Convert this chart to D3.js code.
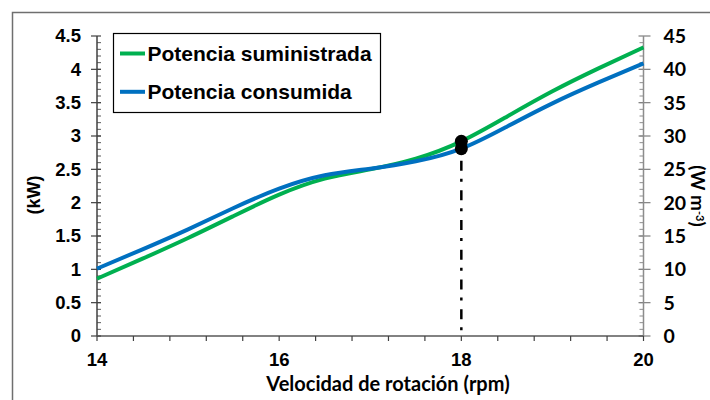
<!DOCTYPE html>
<html>
<head>
<meta charset="utf-8">
<script src="https://cdn.jsdelivr.net/npm/d3@7"></script>
<style>
  html, body { margin: 0; padding: 0; background: #fff; }
  svg { display: block; }
</style>
</head>
<body>
<svg id="chart" width="710" height="400"></svg>
<script>
// Rotation speed (rpm) and the two power curves (kW)
const rpm = [14, 14.5, 15, 15.5, 16, 16.5, 17, 17.5, 18, 18.5, 19, 19.5, 20];
const suministrada = [0.86, 1.16, 1.47, 1.80, 2.12, 2.36, 2.50, 2.66, 2.92, 3.29, 3.67, 4.01, 4.33];
const consumida    = [1.01, 1.30, 1.60, 1.92, 2.21, 2.41, 2.51, 2.62, 2.81, 3.14, 3.49, 3.80, 4.09];
const seriesNames = ["Potencia suministrada", "Potencia consumida"];
const seriesColors = ["#00b050", "#0070c0"];
const operatingRpm = 18;

const xTicks = [14, 16, 18, 20];
const yTicksLeft = [0, 0.5, 1, 1.5, 2, 2.5, 3, 3.5, 4, 4.5];
const yTicksRight = [0, 5, 10, 15, 20, 25, 30, 35, 40, 45];

const svg = d3.select("#chart");
const plot = { left: 97, right: 643.5, top: 36, bottom: 336 };

const x = d3.scaleLinear().domain([14, 20]).range([plot.left, plot.right]);
const yL = d3.scaleLinear().domain([0, 4.5]).range([plot.bottom, plot.top]);
const yR = d3.scaleLinear().domain([0, 45]).range([plot.bottom, plot.top]);

// outer frame of the chart object
svg.append("rect")
  .attr("x", 12.5).attr("y", 12.5)
  .attr("width", 760).attr("height", 440)
  .attr("fill", "none").attr("stroke", "#6f6f6f").attr("stroke-width", 1.5);

const armFont = "'Liberation Sans', Arial, sans-serif";
const calFont = "Lato, 'Open Sans', sans-serif";

// left axis (kW)
const leftAxis = svg.append("g");
leftAxis.selectAll("line.minor")
  .data(d3.range(0, 45).map(i => i / 10))
  .join("line")
  .attr("x1", plot.left).attr("x2", plot.left + 4)
  .attr("y1", d => yL(d)).attr("y2", d => yL(d))
  .attr("stroke", "#595959").attr("stroke-width", 1);
leftAxis.selectAll("line.major")
  .data(yTicksLeft)
  .join("line")
  .attr("x1", plot.left - 6).attr("x2", plot.left + 4)
  .attr("y1", d => yL(d)).attr("y2", d => yL(d))
  .attr("stroke", "#404040").attr("stroke-width", 1.2);
leftAxis.append("line")
  .attr("x1", plot.left).attr("x2", plot.left)
  .attr("y1", plot.top).attr("y2", plot.bottom)
  .attr("stroke", "#404040").attr("stroke-width", 1.5);
leftAxis.selectAll("text")
  .data(yTicksLeft)
  .join("text")
  .attr("x", plot.left - 16).attr("y", d => yL(d))
  .attr("dy", "0.35em")
  .attr("text-anchor", "end")
  .attr("font-family", armFont).attr("font-weight", "bold").attr("font-size", 18.5)
  .text(d => d3.format("~g")(d));

// right axis (W m-3)
const rightAxis = svg.append("g");
rightAxis.selectAll("line.minor")
  .data(d3.range(0, 45))
  .join("line")
  .attr("x1", plot.right - 4).attr("x2", plot.right)
  .attr("y1", d => yR(d)).attr("y2", d => yR(d))
  .attr("stroke", "#8c8c8c").attr("stroke-width", 1);
rightAxis.selectAll("line.major")
  .data(yTicksRight)
  .join("line")
  .attr("x1", plot.right - 5).attr("x2", plot.right + 7)
  .attr("y1", d => yR(d)).attr("y2", d => yR(d))
  .attr("stroke", "#7f7f7f").attr("stroke-width", 1.2);
rightAxis.append("line")
  .attr("x1", plot.right).attr("x2", plot.right)
  .attr("y1", plot.top).attr("y2", plot.bottom)
  .attr("stroke", "#8c8c8c").attr("stroke-width", 1.5);
rightAxis.selectAll("text")
  .data(yTicksRight)
  .join("text")
  .attr("x", plot.right + 20).attr("y", d => yR(d))
  .attr("dy", "0.36em")
  .attr("font-family", calFont).attr("font-weight", "bold").attr("font-size", 19.5)
  .text(d => d);

// x axis (rpm)
const xAxis = svg.append("g");
xAxis.append("line")
  .attr("x1", plot.left).attr("x2", plot.right)
  .attr("y1", plot.bottom).attr("y2", plot.bottom)
  .attr("stroke", "#595959").attr("stroke-width", 1.5);
xAxis.selectAll("line.tick")
  .data(d3.range(0, 16).map(i => 14 + i * 0.4))
  .join("line")
  .attr("x1", d => x(d)).attr("x2", d => x(d))
  .attr("y1", plot.bottom).attr("y2", plot.bottom + 5)
  .attr("stroke", "#404040").attr("stroke-width", 1.2);
xAxis.selectAll("text")
  .data(xTicks)
  .join("text")
  .attr("x", d => x(d)).attr("y", 366)
  .attr("text-anchor", "middle")
  .attr("font-family", armFont).attr("font-weight", "bold").attr("font-size", 18.5)
  .text(d => d);

// axis titles
svg.append("text")
  .attr("x", 388).attr("y", 391)
  .attr("text-anchor", "middle")
  .attr("font-family", calFont).attr("font-weight", "bold").attr("font-size", 20)
  .text("Velocidad de rotación (rpm)");
svg.append("text")
  .attr("transform", "translate(40,195) rotate(-90)")
  .attr("text-anchor", "middle")
  .attr("font-family", armFont).attr("font-weight", "bold").attr("font-size", 18)
  .text("(kW)");
const rTitle = svg.append("text")
  .attr("transform", "translate(691,196) rotate(90)")
  .attr("text-anchor", "middle")
  .attr("font-family", calFont).attr("font-weight", "bold").attr("font-size", 19);
rTitle.append("tspan").text("(W m");
rTitle.append("tspan").attr("dy", -5).attr("font-size", 11).text("-3");
rTitle.append("tspan").attr("dy", 5).text(")");

// operating-point guide line
svg.append("line")
  .attr("x1", x(operatingRpm)).attr("x2", x(operatingRpm))
  .attr("y1", yL(consumida[rpm.indexOf(operatingRpm)]) + 12).attr("y2", plot.bottom)
  .attr("stroke", "#000").attr("stroke-width", 2.5)
  .attr("stroke-dasharray", "10,8,3,8.7");

// power curves
const line = d3.line()
  .x(d => x(d[0]))
  .y(d => yL(d[1]))
  .curve(d3.curveNatural);
[suministrada, consumida].forEach((vals, i) => {
  svg.append("path")
    .datum(rpm.map((r, j) => [r, vals[j]]))
    .attr("d", line)
    .attr("fill", "none")
    .attr("stroke", seriesColors[i])
    .attr("stroke-width", 4)
    .attr("stroke-linejoin", "round");
});

// operating-point markers
[suministrada, consumida].forEach(vals => {
  svg.append("circle")
    .attr("cx", x(operatingRpm))
    .attr("cy", yL(vals[rpm.indexOf(operatingRpm)]))
    .attr("r", 6.5)
    .attr("fill", "#000");
});

// legend
const legend = svg.append("g");
legend.append("rect")
  .attr("x", 113.5).attr("y", 33.5).attr("width", 267).attr("height", 79)
  .attr("fill", "#fff").attr("stroke", "#000").attr("stroke-width", 1.2);
seriesNames.forEach((name, i) => {
  const cy = 53.5 + i * 38.3;
  legend.append("line")
    .attr("x1", 120).attr("x2", 145).attr("y1", cy).attr("y2", cy)
    .attr("stroke", seriesColors[i]).attr("stroke-width", 4);
  legend.append("text")
    .attr("x", 147.5).attr("y", cy).attr("dy", "0.36em")
    .attr("font-family", armFont).attr("font-weight", "bold").attr("font-size", 21)
    .text(name);
});
</script>
</body>
</html>
